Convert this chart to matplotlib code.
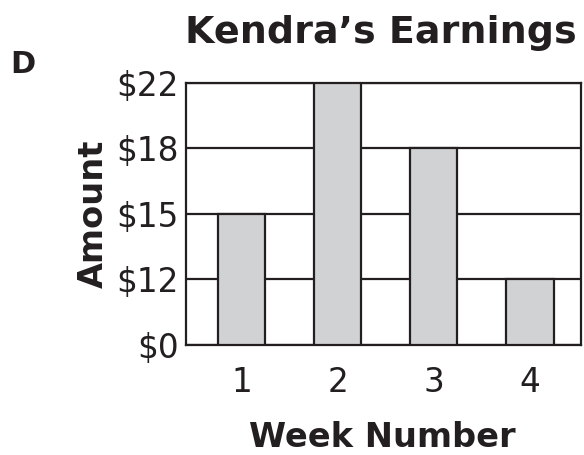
import numpy as np
import matplotlib.pyplot as plt

weeks = [1, 2, 3, 4]
earnings = [15, 22, 18, 12]
amount_ticks = [0, 12, 15, 18, 22]
week_labels = ["1", "2", "3", "4"]

INK = "#231f20"
BAR_FILL = "#d1d2d4"

plt.rcParams['font.family'] = ['DejaVu Sans']

tick_vals = np.array(amount_ticks, dtype=float)
tick_pos = np.arange(len(amount_ticks), dtype=float)


def forward(v):
    # evenly spaced amount ticks regardless of their dollar gap
    return np.interp(v, tick_vals, tick_pos)


def inverse(p):
    return np.interp(p, tick_pos, tick_vals)


fig = plt.figure(figsize=(5.84, 4.55), dpi=100)
ax = fig.add_axes([0.3185, 0.2418, 0.6765, 0.5758])
ax.set_yscale('function', functions=(forward, inverse))

ax.bar(weeks, earnings, width=0.49, color=BAR_FILL, edgecolor=INK,
       linewidth=1.6, zorder=3)

ax.set_ylim(0, 22)
ax.set_xlim(0.425, 4.53)
ax.set_yticks(amount_ticks)
ax.set_yticklabels([f"${v}" for v in amount_ticks])
ax.set_xticks(weeks)
ax.set_xticklabels(week_labels)
ax.yaxis.grid(True, color=INK, linewidth=1.6, zorder=1)
ax.set_axisbelow(True)
ax.tick_params(length=0, labelsize=23.5, colors=INK, pad=5)
ax.tick_params(axis='x', pad=15)
for s in ax.spines.values():
    s.set_color(INK)
    s.set_linewidth(1.6)

fig.text(0.159, 0.5297, "Amount", fontsize=24.2, fontweight='bold', color=INK,
         rotation=90, ha='center', va='center')
fig.text(0.655, 0.0176, "Week Number", fontsize=24.2, fontweight='bold',
         color=INK, ha='center', va='baseline')
fig.text(0.652, 0.9055, "Kendra\u2019s Earnings", fontsize=27.4, fontweight='bold',
         color=INK, ha='center', va='baseline')
fig.text(0.017, 0.8396, "D", fontsize=22, fontweight='bold', color=INK,
         ha='left', va='baseline')

fig.savefig("out.png", dpi=100)
